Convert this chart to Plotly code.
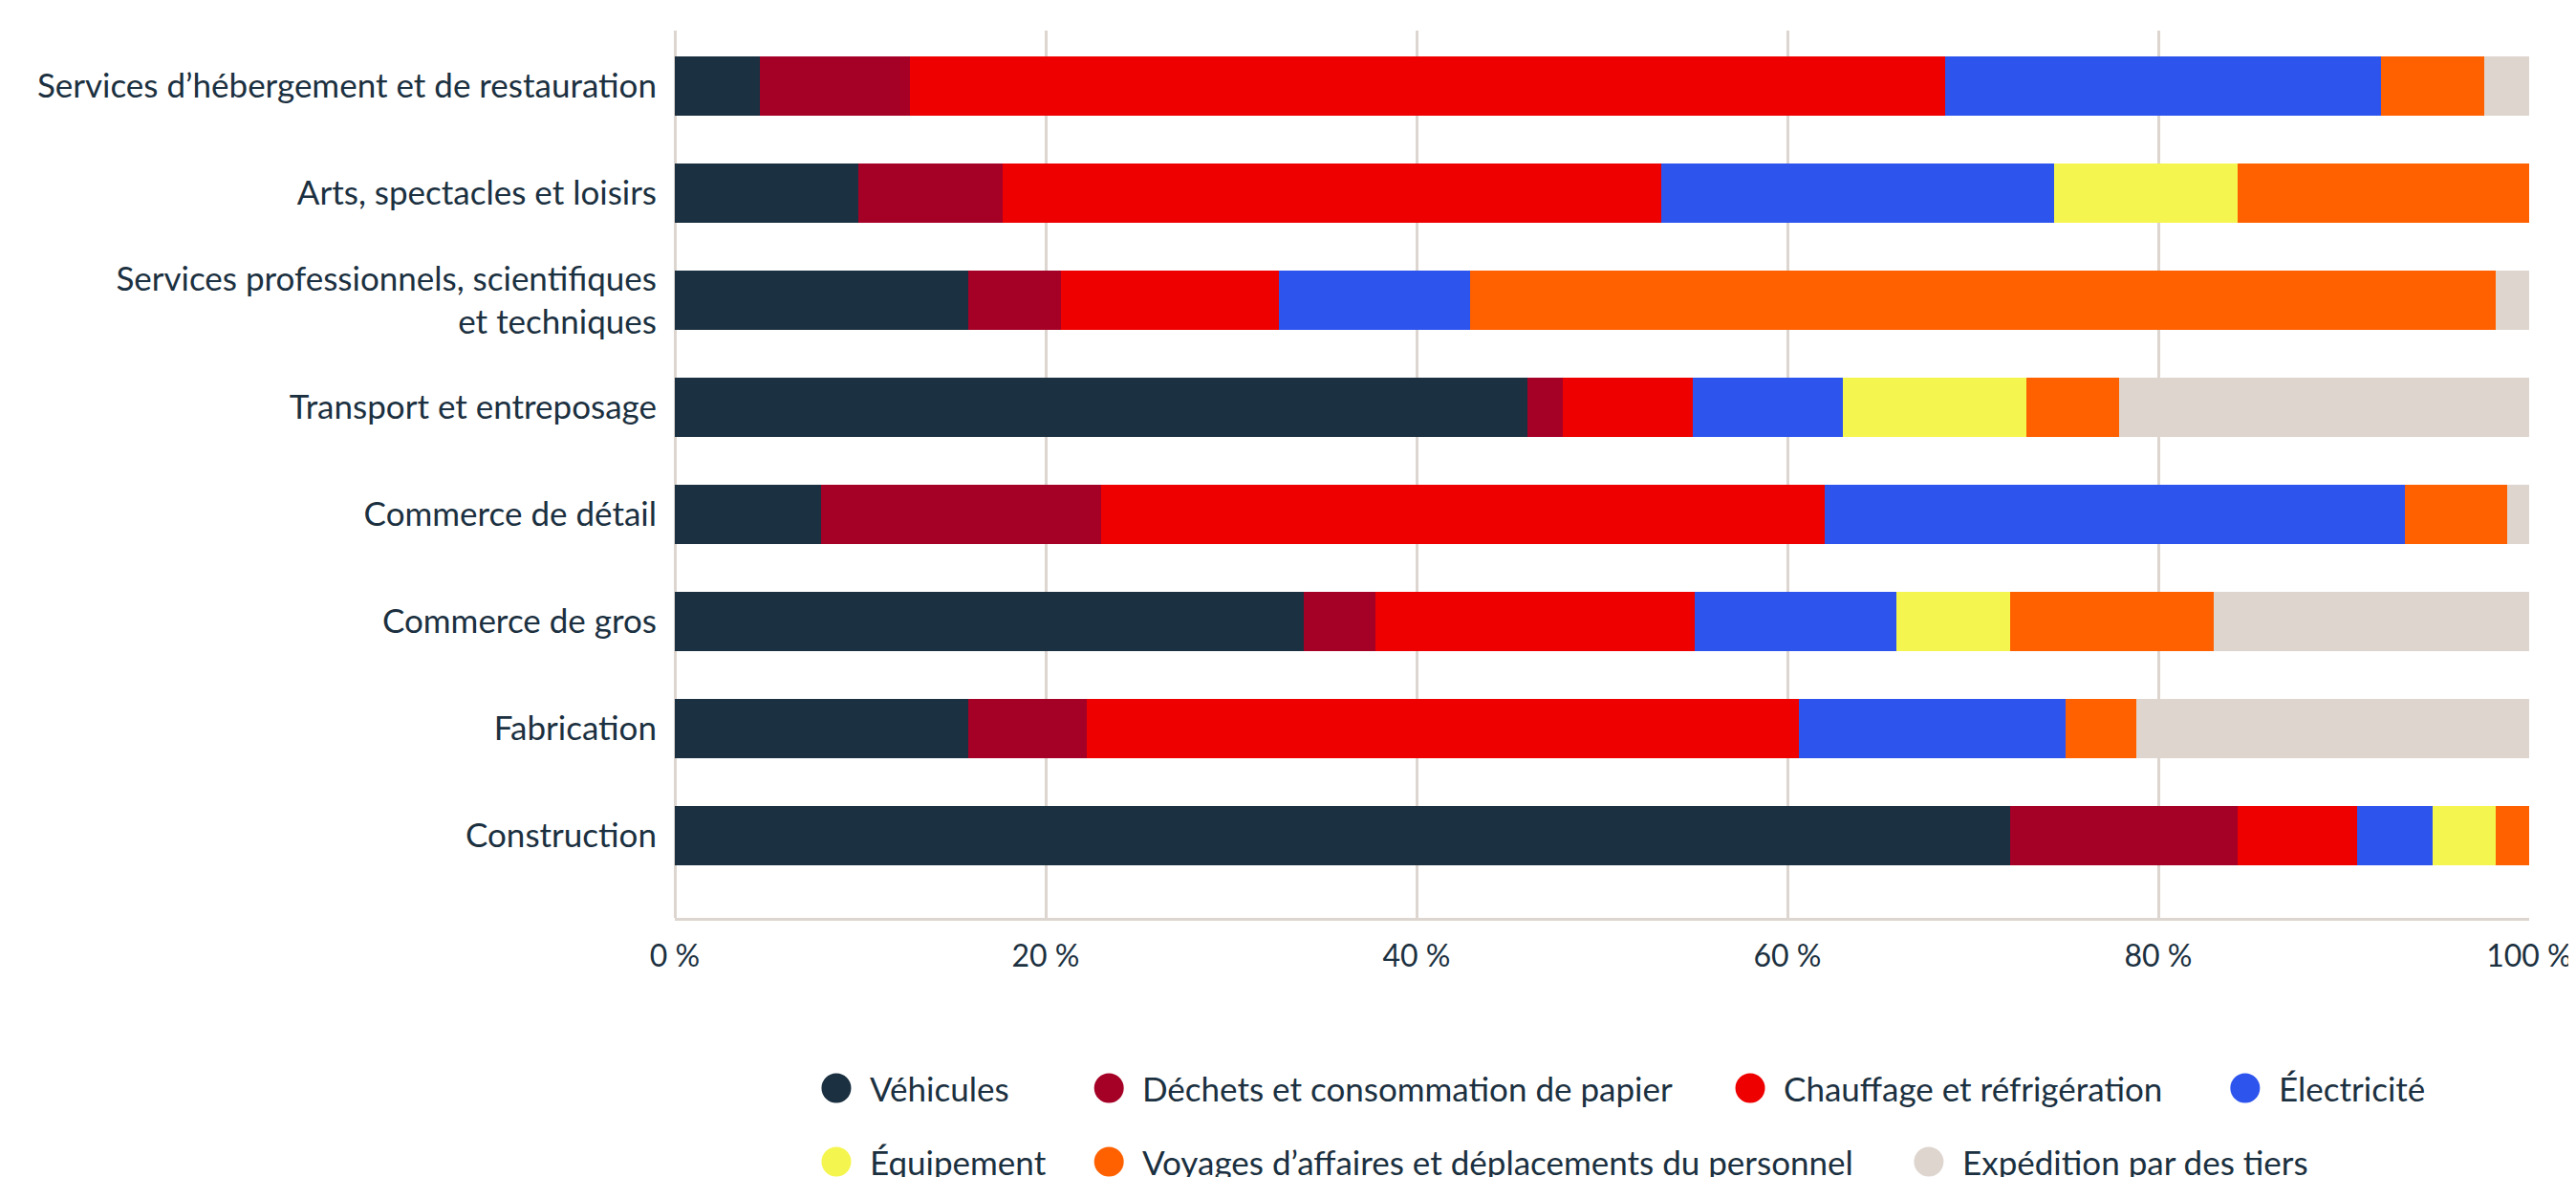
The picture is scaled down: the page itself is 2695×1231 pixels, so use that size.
import plotly.graph_objects as go

# Categories listed bottom-to-top
categories = [
    "Construction",
    "Fabrication",
    "Commerce de gros",
    "Commerce de détail",
    "Transport et entreposage",
    "Services professionnels, scientifiques<br>et techniques",
    "Arts, spectacles et loisirs",
    "Services d’hébergement et de restauration",
]

series_names = [
    "Véhicules",
    "Déchets et consommation de papier",
    "Chauffage et réfrigération",
    "Électricité",
    "Équipement",
    "Voyages d’affaires et déplacements du personnel",
    "Expédition par des tiers",
]

vehicules   = [72.0, 15.8, 33.9,  7.9, 46.0, 15.8,  9.9,  4.6]
dechets     = [12.3,  6.4,  3.9, 15.1,  1.9,  5.0,  7.8,  8.1]
chauffage   = [ 6.4, 38.4, 17.2, 39.0,  7.0, 11.8, 35.5, 55.8]
electricite = [ 4.1, 14.4, 10.9, 31.3,  8.1, 10.3, 21.2, 23.5]
equipement  = [ 3.4,  0.0,  6.1,  0.0,  9.9,  0.0,  9.9,  0.0]
voyages     = [ 1.8,  3.8, 11.0,  5.5,  5.0, 55.3, 15.7,  5.6]
expedition  = [ 0.0, 21.2, 17.0,  1.2, 22.1,  1.8,  0.0,  2.4]

tick_values = [0, 20, 40, 60, 80, 100]
tick_labels = ["0 %", "20 %", "40 %", "60 %", "80 %", "100 %"]

colors = ["#1b3040", "#a50026", "#ee0000", "#2e54ee", "#f5f550", "#ff6100", "#ded5cf"]
TEXT = "#1b3040"
GRID = "#ddd5cf"
FONT = "Lato"

all_series = [vehicules, dechets, chauffage, electricite, equipement, voyages, expedition]

fig = go.Figure()
for name, vals, col in zip(series_names, all_series, colors):
    fig.add_trace(go.Bar(
        y=categories, x=vals, name=name, orientation="h",
        marker=dict(color=col, line=dict(width=0)),
        width=0.555, showlegend=False,
    ))

W, H = 2695, 1231
L, R, T, B = 698, 45, 24, 279
pw, ph = W - L - R, H - T - B

def px_to_paper(px, py):
    return (px - L) / pw, (H - B - py) / ph

# custom legend with large circle markers (layout positions)
legend_pos = [
    (868, 1130), (1155, 1130), (1830, 1130), (2351, 1130),
    (868, 1207), (1155, 1207), (2018, 1207),
]
shapes = []
annotations = []
for (mx, my), name, col in zip(legend_pos, series_names, colors):
    xp, yp = px_to_paper(mx, my)
    shapes.append(dict(
        type="circle", xref="paper", yref="paper",
        xsizemode="pixel", ysizemode="pixel",
        xanchor=xp, yanchor=yp, x0=-15.5, x1=15.5, y0=-15.5, y1=15.5,
        fillcolor=col, line=dict(width=0),
    ))
    tx, ty = px_to_paper(mx + 33, my)
    annotations.append(dict(
        x=tx, y=ty, xref="paper", yref="paper", text=name,
        showarrow=False, xanchor="left", yanchor="middle",
        font=dict(family=FONT, size=35, color=TEXT),
    ))

fig.update_layout(
    barmode="stack",
    width=W, height=H,
    margin=dict(l=L, r=R, t=T, b=B),
    paper_bgcolor="white", plot_bgcolor="white",
    font=dict(family=FONT, color=TEXT),
    bargap=0,
    shapes=shapes,
    annotations=annotations,
    xaxis=dict(
        range=[0, 100], tickvals=tick_values, ticktext=tick_labels,
        showgrid=True, gridcolor=GRID, gridwidth=3,
        zeroline=True, zerolinecolor=GRID, zerolinewidth=3,
        showline=True, linecolor=GRID, linewidth=3,
        ticks="", tickfont=dict(family=FONT, size=32, color=TEXT),
        ticklabelstandoff=10,
    ),
    yaxis=dict(
        type="category", categoryorder="array", categoryarray=categories,
        range=[-0.768, 7.518], showgrid=False, zeroline=False,
        showline=False, ticks="",
        tickfont=dict(family=FONT, size=35, color=TEXT),
        ticklabelstandoff=18,
    ),
)

fig.write_html("out.html")
